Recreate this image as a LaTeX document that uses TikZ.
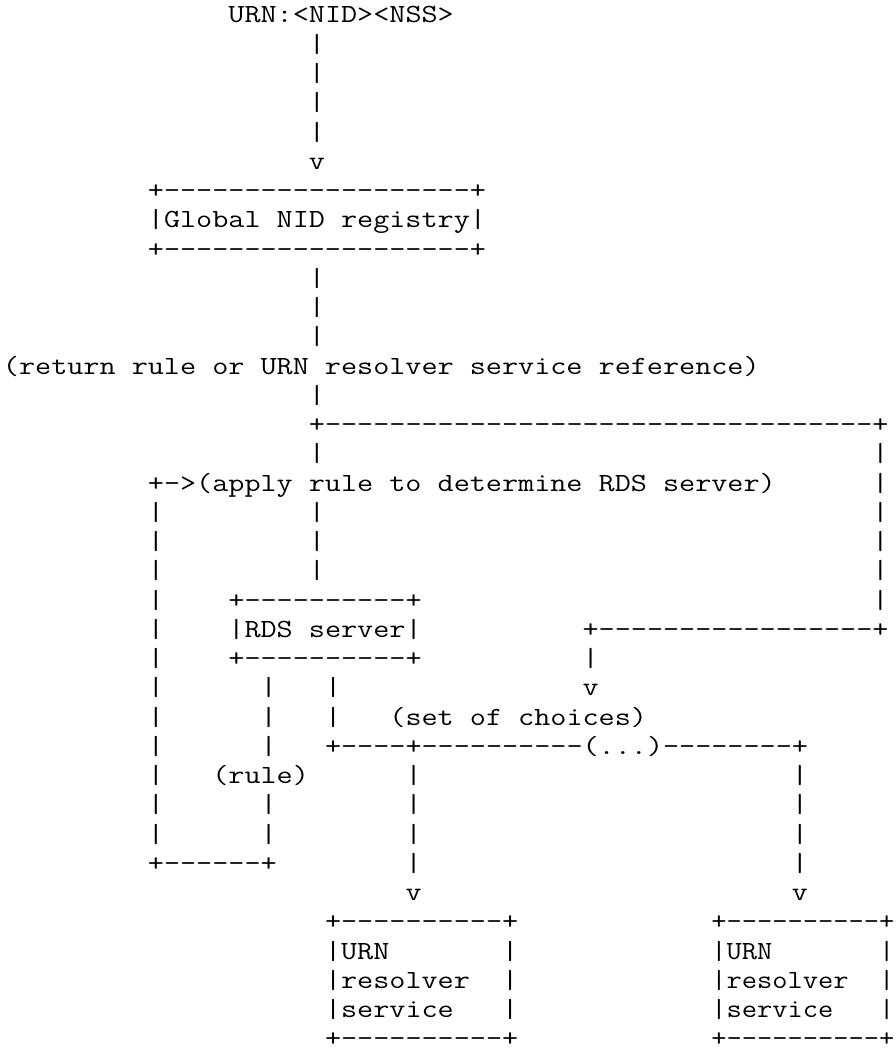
\documentclass[tikz,border=0pt]{standalone}
\usepackage{fontspec}
\usepackage{graphicx}
\ExplSyntaxOn
\cs_new:Npn \dashrun #1 { \prg_replicate:nn {#1} { \hbox{-} } }
\ExplSyntaxOff
\newlength\asccw
% one character cell = 16.1pt wide, one line = 29.25pt high
\newcommand\acell[3]{\node[txt] (c#1-#2) at ({3+#1*16.1},{-23-(#2-1)*29.25}) {\scalebox{\cellscale}[1]{#3}};}
% right-hand resolver box, squeezed a little so it stays inside the page
\newcommand\bcell[2]{\node[txt] (r-#1) at ({3+44*16.1},{-23-(#1-1)*29.25}) {\scalebox{\rboxscale}[1]{#2}};}
\begin{document}
\settowidth\asccw{\ttfamily\fontsize{26.2pt}{29.3pt}\selectfont xxxxxxxxxx}%
\pgfmathsetmacro\cellscale{161/\asccw}%
\pgfmathsetmacro\rboxscale{152.5/\asccw}%
\begin{tikzpicture}[x=1pt,y=1pt,
  txt/.style={anchor=base west,inner sep=0pt,outer sep=0pt,
    font=\ttfamily\fontsize{26.2pt}{29.3pt}\selectfont}]
\useasboundingbox[fill=white] (0,0) rectangle (895,-1052);
% top
\acell{14}{1}{URN:<NID><NSS>}
\foreach \l in {2,...,5} {\acell{19}{\l}{|}}
\acell{19}{6}{v}
\acell{9}{7}{+\dashrun{19}+}
\acell{9}{8}{|Global NID registry|}
\acell{9}{9}{+\dashrun{19}+}
\foreach \l in {10,11,12} {\acell{19}{\l}{|}}
\acell{0}{13}{(return rule or URN resolver service reference)}
\acell{19}{14}{|}
\acell{19}{15}{+\dashrun{34}+}
\acell{19}{16}{|}
\acell{54}{16}{|}
\acell{9}{17}{+\hbox{-}>(apply rule to determine RDS server)}
\acell{54}{17}{|}
\foreach \l in {18,19,20} {\acell{9}{\l}{|}\acell{19}{\l}{|}\acell{54}{\l}{|}}
\acell{9}{21}{|}
\acell{14}{21}{+\dashrun{10}+}
\acell{54}{21}{|}
\acell{9}{22}{|}
\acell{14}{22}{|RDS server|}
\acell{36}{22}{+\dashrun{17}+}
\acell{9}{23}{|}
\acell{14}{23}{+\dashrun{10}+}
\acell{36}{23}{|}
\acell{9}{24}{|}
\acell{16}{24}{|}
\acell{20}{24}{|}
\acell{36}{24}{v}
\acell{9}{25}{|}
\acell{16}{25}{|}
\acell{20}{25}{|}
\acell{24}{25}{(set of choices)}
\acell{9}{26}{|}
\acell{16}{26}{|}
\acell{20}{26}{+\dashrun{4}+\dashrun{10}(...)\dashrun{8}+}
\acell{9}{27}{|}
\acell{13}{27}{(rule)}
\acell{25}{27}{|}
\acell{49}{27}{|}
\foreach \l in {28,29} {\acell{9}{\l}{|}\acell{16}{\l}{|}\acell{25}{\l}{|}\acell{49}{\l}{|}}
\acell{9}{30}{+\dashrun{6}+}
\acell{25}{30}{|}
\acell{49}{30}{|}
\acell{25}{31}{v}
\acell{49}{31}{v}
% resolver boxes
\acell{20}{32}{+\dashrun{10}+}
\acell{20}{33}{|URN}
\acell{31}{33}{|}
\acell{20}{34}{|resolver}
\acell{31}{34}{|}
\acell{20}{35}{|service}
\acell{31}{35}{|}
\acell{20}{36}{+\dashrun{10}+}
\bcell{32}{+\dashrun{10}+}
\bcell{33}{|URN\hphantom{xxxxxxx}|}
\bcell{34}{|resolver\hphantom{xx}|}
\bcell{35}{|service\hphantom{xxx}|}
\bcell{36}{+\dashrun{10}+}
\end{tikzpicture}
\end{document}
